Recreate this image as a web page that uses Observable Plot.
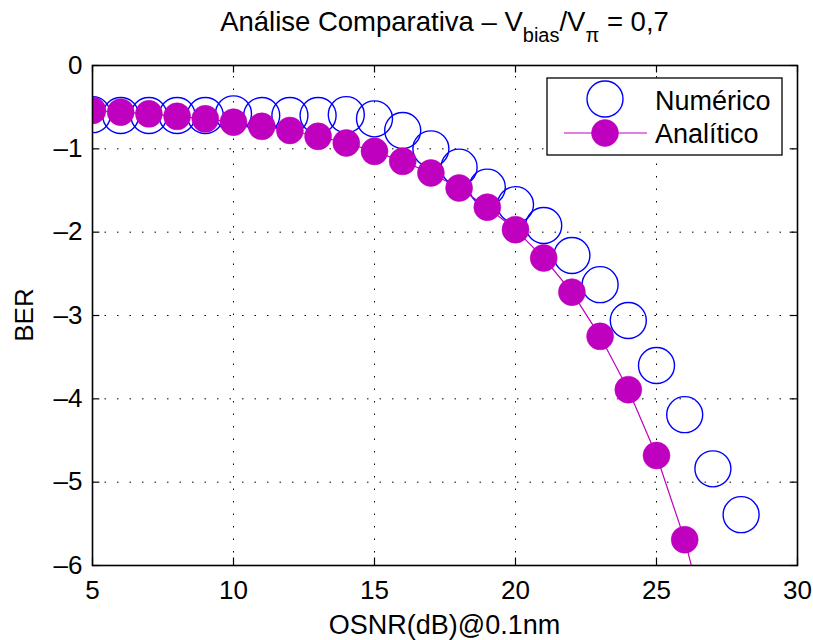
<!DOCTYPE html>
<html>
<head>
<meta charset="utf-8">
<script src="https://cdn.jsdelivr.net/npm/d3@7"></script>
<script src="https://cdn.jsdelivr.net/npm/@observablehq/plot@0.6"></script>
<style>
  html, body { margin: 0; padding: 0; background: #fff; }
  svg { display: block; }
</style>
</head>
<body>
<div id="chart"></div>
<script>
const osnrNum = [5, 6, 7, 8, 9, 10, 11, 12, 13, 14, 15, 16, 17, 18, 19, 20, 21, 22, 23, 24, 25, 26, 27, 28];
const berNumerico = [-0.59, -0.60, -0.60, -0.60, -0.60, -0.58, -0.60, -0.60, -0.60, -0.59, -0.64, -0.78, -1.00, -1.22, -1.46, -1.67, -1.92, -2.28, -2.63, -3.06, -3.60, -4.19, -4.84, -5.39];
const osnrAna = [5, 6, 7, 8, 9, 10, 11, 12, 13, 14, 15, 16, 17, 18, 19, 20, 21, 22, 23, 24, 25, 26, 27];
const berAnalitico = [-0.54, -0.56, -0.58, -0.61, -0.64, -0.68, -0.73, -0.78, -0.85, -0.93, -1.03, -1.15, -1.29, -1.47, -1.70, -1.97, -2.31, -2.72, -3.25, -3.89, -4.68, -5.69, -7.0];
const xTicks = [5, 10, 15, 20, 25, 30];
const yTicks = [0, -1, -2, -3, -4, -5, -6];
const xGrid = [10, 15, 20, 25];
const yGrid = [-1, -2, -3, -4, -5];
const seriesNames = ["Numérico", "Analítico"];
const colorNum = "#0000ff";
const colorAna = "#bf00bf";

const numData = osnrNum.map((x, i) => ({x, y: berNumerico[i]}));
const anaData = osnrAna.map((x, i) => ({x, y: berAnalitico[i]}));

const W = 813, H = 640;
const mL = 92, mR = 16, mT = 65, mB = 75;
const font = "'Liberation Sans', Arial, Helvetica, sans-serif";
const dots = "1.5,11";

const plot = Plot.plot({
  width: W,
  height: H,
  marginLeft: mL,
  marginRight: mR,
  marginTop: mT,
  marginBottom: mB,
  style: {fontFamily: font, fontSize: "26px", color: "black", background: "white"},
  x: {domain: [5, 30]},
  y: {domain: [-6, 0]},
  marks: [
    Plot.ruleX(xGrid, {x: d => d, y1: -6, y2: 0, stroke: "black", strokeWidth: 1, strokeDasharray: dots}),
    Plot.ruleY(yGrid, {y: d => d, x1: 5, x2: 30, stroke: "black", strokeWidth: 1, strokeDasharray: dots}),
    Plot.axisX(xTicks, {tickSize: 0, tickPadding: 15, fontSize: 26, label: null, tickFormat: d => String(d)}),
    Plot.axisY(yTicks, {tickSize: 0, tickPadding: 10, fontSize: 26, label: null, tickFormat: d => d === 0 ? "0" : "\u2013" + Math.abs(d)}),
    Plot.ruleX(xTicks, {x: d => d, y1: -6, y2: -5.91, stroke: "black", strokeWidth: 1.2}),
    Plot.ruleX(xTicks, {x: d => d, y1: 0, y2: -0.09, stroke: "black", strokeWidth: 1.2}),
    Plot.ruleY(yTicks, {y: d => d, x1: 5, x2: 5.26, stroke: "black", strokeWidth: 1.2}),
    Plot.ruleY(yTicks, {y: d => d, x1: 30, x2: 29.74, stroke: "black", strokeWidth: 1.2}),
    Plot.dot(numData, {x: "x", y: "y", r: 18, stroke: colorNum, strokeWidth: 1.4, fill: "none", clip: true}),
    Plot.line(anaData, {x: "x", y: "y", stroke: colorAna, strokeWidth: 1.2, clip: true}),
    Plot.dot(anaData, {x: "x", y: "y", r: 13.5, fill: colorAna, stroke: colorAna, strokeWidth: 0.5, clip: true}),
    Plot.frame({stroke: "black", strokeWidth: 1.6})
  ]
});

const svg = d3.select(plot);

// Title with subscripts
const title = svg.append("text")
  .attr("x", (mL + (W - mR)) / 2)
  .attr("y", 31)
  .attr("text-anchor", "middle")
  .attr("font-family", font)
  .attr("font-size", 27.5)
  .attr("fill", "black");
title.append("tspan").text("Análise Comparativa \u2013 V");
title.append("tspan").attr("font-size", 20).attr("dy", 11).text("bias");
title.append("tspan").attr("dy", -11).text("/V");
title.append("tspan").attr("font-size", 20).attr("dy", 11).text("\u03c0");
title.append("tspan").attr("dy", -11).text(" = 0,7");

// Axis labels
svg.append("text")
  .attr("x", (mL + (W - mR)) / 2)
  .attr("y", 634)
  .attr("text-anchor", "middle")
  .attr("font-family", font)
  .attr("font-size", 27)
  .text("OSNR(dB)@0.1nm");

svg.append("text")
  .attr("transform", `translate(33, ${(mT + (H - mB)) / 2}) rotate(-90)`)
  .attr("text-anchor", "middle")
  .attr("font-family", font)
  .attr("font-size", 26)
  .text("BER");

// Legend
const lg = svg.append("g");
lg.append("rect")
  .attr("x", 547).attr("y", 78).attr("width", 235).attr("height", 77)
  .attr("fill", "white").attr("stroke", "black").attr("stroke-width", 1.3);
lg.append("circle").attr("cx", 605).attr("cy", 99).attr("r", 18)
  .attr("fill", "none").attr("stroke", colorNum).attr("stroke-width", 1.4);
lg.append("line").attr("x1", 564).attr("x2", 647).attr("y1", 133).attr("y2", 133)
  .attr("stroke", colorAna).attr("stroke-width", 1.2);
lg.append("circle").attr("cx", 605).attr("cy", 133).attr("r", 13.5)
  .attr("fill", colorAna).attr("stroke", colorAna).attr("stroke-width", 0.5);
lg.append("text").attr("x", 655).attr("y", 110).attr("text-anchor", "start").attr("font-family", font).attr("font-size", 27).text(seriesNames[0]);
lg.append("text").attr("x", 655).attr("y", 143).attr("text-anchor", "start").attr("font-family", font).attr("font-size", 27).text(seriesNames[1]);

document.getElementById("chart").appendChild(plot);
</script>
</body>
</html>
